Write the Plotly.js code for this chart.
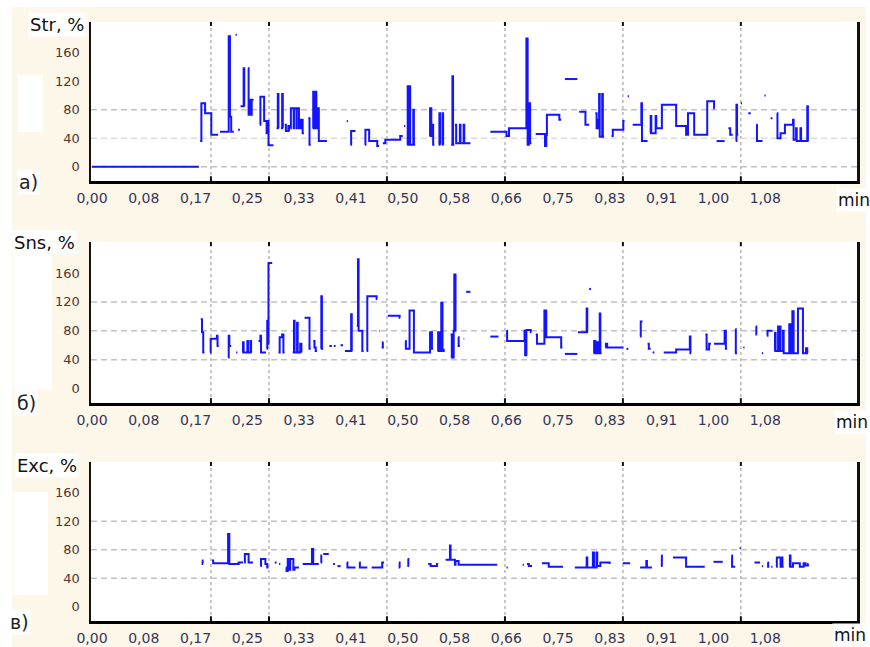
<!DOCTYPE html>
<html><head><meta charset="utf-8">
<script src="https://cdn.plot.ly/plotly-3.0.1.min.js"></script>
<style>html,body{margin:0;padding:0;background:#fff}#chart{width:870px;height:647px}</style>
</head><body><div id="chart"></div>
<script>
// time in minutes, value in %
const strSteps = [
[0.000,0],[0.172,0],null,
[0.174,36],[0.176,89],[0.182,75],[0.192,45],[0.203,45],null,
[0.206,49],[0.220,183],[0.222,70],[0.224,49],[0.228,49],null,
[0.231,185],[0.233,185],null,
[0.235,52],[0.238,52],null,
[0.239,85],[0.244,138],[0.245,85],null,
[0.251,138],[0.252,73],[0.254,94],[0.256,73],[0.257,94],[0.260,94],null,
[0.270,59],[0.271,98],[0.277,64],[0.281,47],[0.283,64],[0.284,30],[0.292,30],null,
[0.297,54],[0.299,102],[0.300,54],null,
[0.304,54],[0.306,102],[0.307,54],null,
[0.310,59],[0.312,50],[0.316,57],[0.317,50],null,
[0.319,54],[0.320,82],[0.3245,54],[0.325,82],[0.329,54],[0.3295,82],[0.333,54],[0.336,66],[0.339,47],[0.341,47],null,
[0.348,68],[0.350,31],[0.352,31],null,
[0.355,54],[0.356,105],[0.358,54],[0.360,105],[0.361,54],[0.364,82],[0.365,36],[0.378,36],null,
[0.410,64],[0.412,64],null,
[0.416,31],[0.417,50],[0.424,50],null,
[0.439,31],[0.440,52],[0.446,36],[0.459,29],[0.462,29],null,
[0.468,33],[0.472,38],[0.496,43],[0.500,43],null,
[0.502,57],[0.504,57],null,
[0.507,31],[0.508,113],[0.510,31],[0.511,113],[0.512,31],[0.517,80],[0.518,31],[0.520,31],null,
[0.543,43],[0.544,82],[0.546,43],[0.548,59],[0.549,31],[0.551,31],null,
[0.558,31],[0.559,75],[0.560,31],null,
[0.563,31],[0.564,75],[0.565,31],null,
[0.578,31],[0.580,127],[0.581,31],[0.583,31],null,
[0.584,59],[0.586,33],[0.592,59],[0.593,33],[0.598,59],[0.599,33],[0.609,33],null,
[0.641,49],[0.667,43],[0.671,54],[0.699,180],[0.701,31],[0.703,89],[0.705,33],[0.707,33],null,
[0.714,46],[0.729,29],[0.731,45],[0.732,73],[0.752,66],[0.755,66],null,
[0.761,123],[0.781,123],null,
[0.784,77],[0.794,59],[0.800,59],null,
[0.810,75],[0.812,54],[0.814,66],[0.816,102],[0.817,42],[0.821,102],[0.822,42],[0.824,42],null,
[0.836,43],[0.838,52],[0.855,64],[0.857,64],null,
[0.862,99],[0.864,99],null,
[0.870,59],[0.884,89],[0.885,36],[0.894,36],null,
[0.898,47],[0.899,71],[0.900,47],[0.906,47],[0.907,71],[0.908,54],[0.917,87],[0.940,57],[0.956,45],[0.959,75],[0.969,45],[0.990,92],[1.001,82],[1.002,82],null,
[1.005,36],[1.018,36],null,
[1.024,54],[1.027,45],[1.031,45],null,
[1.036,36],[1.037,87],[1.038,45],[1.040,45],null,
[1.044,89],[1.046,89],null,
[1.056,75],[1.060,75],null,
[1.069,59],[1.070,36],[1.079,36],null,
[1.082,100],[1.084,100],null,
[1.092,68],[1.095,68],null,
[1.102,75],[1.103,40],[1.108,47],[1.115,59],[1.128,66],[1.129,38],[1.133,54],[1.134,36],[1.140,54],[1.141,36],[1.150,36],[1.151,85],[1.152,36],[1.153,36]
];

const snsSteps = [
[0.175,96],[0.177,78],[0.179,50],[0.181,50],null,
[0.190,50],[0.191,69],[0.201,73],[0.202,59],[0.204,59],null,
[0.219,43],[0.220,73],[0.221,59],[0.224,59],null,
[0.232,50],[0.234,50],null,
[0.242,50],[0.243,64],[0.244,50],[0.249,50],[0.250,66],[0.251,50],[0.254,50],[0.255,66],[0.256,50],[0.257,50],null,
[0.268,66],[0.271,73],[0.272,50],[0.280,50],null,
[0.281,55],[0.282,94],[0.283,62],[0.284,174],[0.290,174],null,
[0.300,50],[0.302,71],[0.306,75],[0.308,50],[0.310,50],null,
[0.323,50],[0.325,94],[0.326,50],[0.330,91],[0.331,50],[0.335,62],[0.337,50],null,
[0.342,98],[0.350,55],[0.352,55],null,
[0.356,66],[0.358,57],[0.360,52],[0.362,52],null,
[0.368,55],[0.369,128],[0.370,55],[0.372,55],null,
[0.382,59],[0.386,59],null,
[0.389,59],[0.392,59],null,
[0.400,60],[0.404,60],null,
[0.407,52],[0.417,103],[0.418,52],[0.419,52],null,
[0.426,87],[0.428,179],[0.429,80],[0.435,52],[0.437,52],null,
[0.442,52],[0.443,128],[0.458,124],[0.459,124],null,
[0.462,80],[0.463,80],null,
[0.466,57],[0.468,64],[0.469,64],null,
[0.476,101],[0.495,98],[0.496,98],null,
[0.504,66],[0.505,55],[0.511,108],[0.518,50],[0.544,78],[0.547,55],[0.549,55],null,
[0.556,52],[0.557,78],[0.559,52],[0.562,119],[0.564,52],[0.566,55],null,
[0.577,75],[0.579,43],[0.582,80],[0.583,158],[0.585,80],[0.586,80],null,
[0.589,71],[0.590,59],[0.592,59],null,
[0.598,69],[0.599,69],null,
[0.602,134],[0.609,134],null,
[0.641,72],[0.654,72],null,
[0.667,80],[0.668,66],[0.696,80],[0.697,46],[0.699,81],[0.706,78],[0.707,78],null,
[0.714,75],[0.716,62],[0.728,108],[0.731,71],[0.755,57],[0.757,57],null,
[0.761,48],[0.781,48],null,
[0.782,78],[0.796,111],[0.797,78],[0.798,78],null,
[0.800,138],[0.803,138],null,
[0.807,49],[0.808,66],[0.810,49],[0.812,64],[0.814,49],[0.817,104],[0.818,49],[0.820,49],null,
[0.826,57],[0.827,62],[0.829,57],[0.855,57],null,
[0.860,55],[0.863,55],null,
[0.882,72],[0.883,93],[0.886,93],null,
[0.894,62],[0.896,55],[0.899,55],null,
[0.902,50],[0.905,50],null,
[0.920,50],[0.940,54],[0.962,72],[0.963,49],[0.964,49],null,
[0.987,75],[0.989,54],[0.993,62],[0.996,62],null,
[1.001,62],[1.018,80],[1.020,55],[1.022,55],null,
[1.035,82],[1.036,49],[1.038,49],null,
[1.048,57],[1.050,57],null,
[1.068,86],[1.069,75],[1.070,75],null,
[1.078,49],[1.080,49],null,
[1.086,73],[1.087,80],[1.095,80],null,
[1.098,52],[1.099,77],[1.100,52],[1.104,86],[1.105,52],[1.107,86],[1.108,52],[1.112,80],[1.113,49],[1.122,89],[1.124,49],[1.127,107],[1.129,49],[1.136,111],[1.144,49],[1.149,56],[1.151,49],[1.152,49]
];

const excSteps = [
[0.177,65],[0.178,60],[0.179,60],null,
[0.193,65],[0.195,61],[0.219,102],[0.221,60],[0.236,62],[0.243,62],null,
[0.245,62],[0.246,74],[0.252,62],[0.259,62],null,
[0.271,57],[0.272,67],[0.279,60],[0.282,55],[0.284,55],null,
[0.294,62],[0.297,62],null,
[0.301,60],[0.303,60],null,
[0.312,55],[0.313,50],[0.315,67],[0.318,52],[0.319,67],[0.324,52],[0.326,55],[0.333,55],null,
[0.339,60],[0.354,81],[0.356,60],[0.365,60],null,
[0.368,62],[0.369,72],[0.370,72],null,
[0.372,74],[0.381,74],null,
[0.388,60],[0.391,60],null,
[0.395,57],[0.400,57],null,
[0.410,62],[0.411,55],[0.424,55],null,
[0.430,62],[0.431,55],[0.443,55],null,
[0.450,55],[0.466,55],[0.467,62],[0.470,62],null,
[0.494,62],[0.495,55],[0.496,55],null,
[0.508,67],[0.509,57],[0.510,57],null,
[0.541,60],[0.545,57],[0.555,60],[0.557,60],null,
[0.569,66],[0.576,86],[0.577,66],[0.583,66],[0.584,59],[0.585,64],[0.590,59],[0.652,59],null,
[0.667,55],[0.669,55],null,
[0.693,59],[0.695,59],null,
[0.700,60],[0.703,57],[0.708,57],null,
[0.724,61],[0.735,56],[0.758,56],null,
[0.777,55],[0.794,55],[0.796,69],[0.797,55],[0.805,55],[0.806,76],[0.808,55],[0.812,76],[0.813,57],[0.818,62],[0.830,62],[0.833,60],null,
[0.854,61],[0.866,61],null,
[0.882,55],[0.892,64],[0.893,55],[0.901,55],null,
[0.916,72],[0.917,57],[0.918,57],null,
[0.935,69],[0.956,56],[0.986,56],null,
[1.000,63],[1.015,63],null,
[1.029,72],[1.030,56],[1.035,56],null,
[1.042,82],[1.044,82],null,
[1.066,62],[1.075,62],null,
[1.078,57],[1.080,57],null,
[1.087,62],[1.088,56],[1.090,56],null,
[1.093,56],[1.095,56],null,
[1.101,56],[1.102,69],[1.108,56],[1.110,69],[1.111,56],[1.113,56],null,
[1.122,56],[1.123,72],[1.124,56],[1.128,61],[1.139,56],[1.145,61],[1.148,58],[1.152,60],[1.153,60]
];

const xTickVals = [0, 0.0833, 0.1667, 0.25, 0.3333, 0.4167, 0.5, 0.5833, 0.6667, 0.75, 0.8333, 0.9167, 1.0, 1.0833];
const xTickText = ["0,00","0,08","0,17","0,25","0,33","0,41","0,50","0,58","0,66","0,75","0,83","0,91","1,00","1,08"];
const yTickVals = [0, 40, 80, 120, 160];
const yTickText = ["0","40","80","120","160"];
const panelTitles = ["Str, %", "Sns, %", "Exc, %"];
const panelLetters = ["a)", "б)", "в)"];
const xUnit = "min";
const vGridTimes = [0.1914, 0.2848, 0.4746, 0.6645, 0.8543, 1.0441];
const hGridA = [0, 40, 80];
const hGridBC = [40, 80, 120];

function split(p){ return {x:p.map(q=>q?q[0]:null), y:p.map(q=>q?q[1]:null)}; }

const blue = '#1414ff';
const series = [strSteps, snsSteps, excSteps];
const axSuffix = ['', '2', '3'];
const data = series.map((s,i)=>{ const d = split(s); return {
  x:d.x, y:d.y, type:'scatter', mode:'lines', connectgaps:false,
  xaxis:'x'+axSuffix[i], yaxis:'y'+axSuffix[i],
  line:{color:blue, width:2, shape:'hv'}, hoverinfo:'skip', showlegend:false}; });

const W=870, H=647;
const px = v => v/W, py = v => 1 - v/H;
const xDom = [px(91), px(857)];
const yDoms = [[py(181), py(22)], [py(403), py(242)], [py(621), py(462)]];

const tickFontX = {family:'DejaVu Sans, Arial', size:14, color:'#35355a'};
const tickFontY = {family:'DejaVu Sans, Arial', size:13, color:'#55352c'};

const layout = {
  width:W, height:H, autosize:false,
  margin:{l:0,r:0,t:0,b:0},
  paper_bgcolor:'#fcf7e9', plot_bgcolor:'#ffffff',
  showlegend:false, shapes:[], annotations:[]
};
for (let i=0;i<3;i++){
  const s = axSuffix[i];
  layout['xaxis'+s] = {domain:xDom, anchor:'y'+s, range:[-0.0016,1.231],
    tickmode:'array', tickvals:xTickVals, ticktext:xTickText, tickfont:tickFontX,
    ticks:'', ticklabelstandoff:3, showgrid:false, zeroline:false,
    showline:true, linecolor:'#000', linewidth:2.5, mirror:false, fixedrange:true};
  layout['yaxis'+s] = {domain:yDoms[i], anchor:'x'+s, range:[-20,203],
    tickmode:'array', tickvals:yTickVals, ticktext:yTickText, tickfont:tickFontY,
    ticks:'', ticklabelstandoff:6, showgrid:false, zeroline:false,
    showline:true, linecolor:'#111', linewidth:2.5, mirror:true, fixedrange:true};
}

// white border strips outside the cream page, and white patches in the margin
[[0,870,0,7],[0,12,0,647],[866,870,0,647],[18,43,75,132],[13,52,253,390],[13,48,492,595]].forEach(r=>{
  layout.shapes.push({type:'rect', xref:'paper', yref:'paper', x0:px(r[0]), x1:px(r[1]), y0:py(r[3]), y1:py(r[2]),
    fillcolor:'#ffffff', line:{width:0}, layer:'below'});
});

for (let i=0;i<3;i++){
  const s = axSuffix[i];
  vGridTimes.forEach(t=>{
    layout.shapes.push({type:'line', xref:'x'+s, yref:'y'+s+' domain', x0:t, x1:t, y0:0, y1:1,
      line:{color:'#b5b5b5', width:1.5, dash:'3px,3px'}, layer:'below'});
    layout.shapes.push({type:'line', xref:'x'+s, yref:'y'+s+' domain', x0:t, x1:t, y0:0.975, y1:1,
      line:{color:'#111', width:2}, layer:'below'});
    layout.shapes.push({type:'line', xref:'x'+s, yref:'y'+s+' domain', x0:t, x1:t, y0:0, y1:0.03,
      line:{color:'#111', width:2}, layer:'below'});
  });
  const hg = i===0 ? hGridA : hGridBC;
  hg.forEach(v=>{
    const light = (i===0 && v===40);
    layout.shapes.push({type:'line', xref:'x'+s+' domain', yref:'y'+s, x0:0, x1:1, y0:v, y1:v,
      line:{color: light ? '#dcdcdc' : '#c2c2c2', width:1.5, dash:'6px,4px'}, layer:'below'});
  });
}

const titlePos = [[28,25],[12,242],[15,465]];
const letterPos = [[17,182],[15,403],[8,622]];
const unitPos = [[836,200],[834,422],[832,635]];
for (let i=0;i<3;i++){
  layout.annotations.push({text:panelTitles[i], xref:'paper', yref:'paper', x:px(titlePos[i][0]), y:py(titlePos[i][1]),
    xanchor:'left', yanchor:'middle', showarrow:false, bgcolor:'#ffffff', borderpad:1,
    font:{family:'DejaVu Sans, Arial', size:18, color:'#111'}});
  layout.annotations.push({text:panelLetters[i], xref:'paper', yref:'paper', x:px(letterPos[i][0]), y:py(letterPos[i][1]),
    xanchor:'left', yanchor:'middle', showarrow:false, bgcolor:'#ffffff', borderpad:1,
    font:{family:'DejaVu Sans, Arial', size:19, color:'#222'}});
  layout.annotations.push({text:xUnit, xref:'paper', yref:'paper', x:px(unitPos[i][0]), y:py(unitPos[i][1]),
    xanchor:'left', yanchor:'middle', showarrow:false, bgcolor:'#ffffff', borderpad:1,
    font:{family:'DejaVu Sans, Arial', size:17, color:'#111'}});
}

Plotly.newPlot('chart', data, layout, {staticPlot:true, displayModeBar:false});
</script>
</body></html>
